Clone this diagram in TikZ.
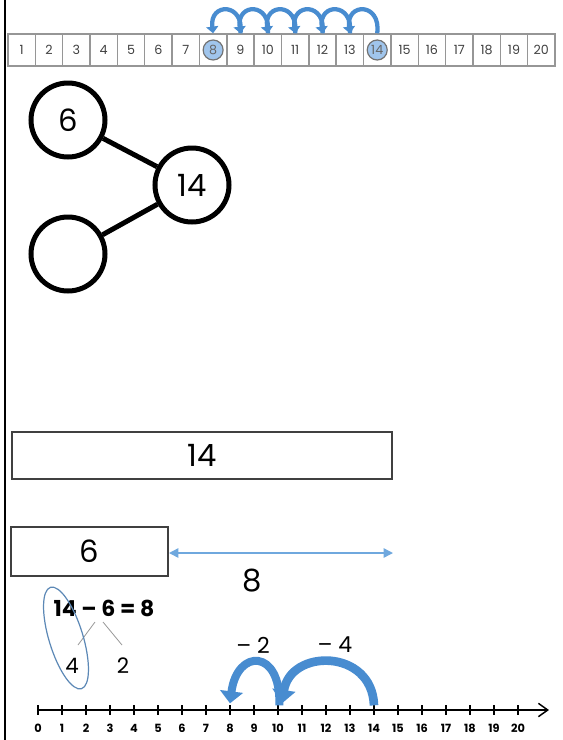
\documentclass[tikz,border=0pt]{standalone}
\usepackage{fontspec}
\setmainfont{Poppins}
\usetikzlibrary{arrows.meta}

\definecolor{hopblue}{RGB}{72,140,208}
\definecolor{pale}{RGB}{160,197,236}
\definecolor{linkblue}{RGB}{111,168,222}
\definecolor{ringblue}{RGB}{92,136,182}
\definecolor{boxgray}{RGB}{150,150,150}

\tikzset{
  cell/.style={draw=boxgray, line width=1.1pt, minimum width=20.51pt, minimum height=24pt,
    inner sep=0pt, font=\fontsize{9.5}{10}\selectfont, text=black!75},
  hlcell/.style={circle, draw=black!55, fill=pale, line width=0.9pt, minimum size=15pt,
    inner sep=0pt, font=\fontsize{9.5}{10}\selectfont, text=black!60},
  hop/.style={draw=hopblue, line width=3.2pt, -{Triangle[length=5pt,width=9pt]}},
  bond/.style={circle, draw, line width=3.75pt, minimum size=55.5pt, inner sep=0pt,
    font=\fontsize{23}{26}\selectfont},
  bondlink/.style={line width=3.75pt},
  bar/.style={draw=black!75, line width=1.5pt, inner sep=0pt, font=\fontsize{23}{26}\selectfont},
  gap/.style={draw=linkblue, line width=1.1pt,
    {Triangle[length=7pt,width=7pt]}-{Triangle[length=7pt,width=7pt]}},
  big/.style={font=\fontsize{23}{26}\selectfont},
  sum/.style={font=\bfseries\fontsize{16.5}{19}\selectfont},
  part/.style={font=\fontsize{16}{18}\selectfont},
  split/.style={draw=black!40, line width=0.6pt},
  ring/.style={draw=ringblue, line width=0.9pt},
  step label/.style={font=\fontsize{16.5}{18}\selectfont},
  tick/.style={line width=1pt},
  axis/.style={line width=1.1pt, -{Straight Barb[length=7pt,width=10pt]}},
  numlab/.style={font=\bfseries\fontsize{8.5}{9}\selectfont, inner sep=1pt},
  bighop/.style={draw=hopblue, line width=6.5pt, -{Triangle[length=10pt,width=17pt]}},
  smallhop/.style={draw=hopblue, line width=6pt, -{Triangle[length=9pt,width=17pt]}},
}

\begin{document}
\begin{tikzpicture}[x=0.75pt,y=0.75pt]
\useasboundingbox (0,0) rectangle (563,-740);
\fill[white] (0,0) rectangle (563,-740);
% Left margin line
\draw[line width=1.5pt] (5,0) -- (5,-740);
% Drawing number strip
\foreach \i in {1,...,20}
  \node[cell] (b\i) at ({8+27.35*(\i-0.5)},-50) {\i};
\node[hlcell] (c8) at (b8) {8};
\node[hlcell] (c14) at (b14) {14};
% Hops back from 14 to 8
\foreach \i in {14,13,...,9}{
  \pgfmathtruncatemacro{\j}{\i-1}
  \draw[hop] (b\i.north) .. controls +(4,31) and +(-4,31) .. (b\j.north);
}
% Drawing number bond
\node[bond] (six) at (68,-120) {6};
\node[bond] (fourteen) at (192,-185) {14};
\node[bond] (blank) at (68,-254) {};
\draw[bondlink] (six) -- (fourteen);
\draw[bondlink] (blank) -- (fourteen);
% Drawing bar model
\node[bar, minimum width=285pt, minimum height=35.25pt] (whole) at (202,-455.5) {14};
\node[bar, minimum width=117.75pt, minimum height=36.75pt] (known) at (89.5,-551.5) {6};
\coordinate (gapend) at (393,-553);
\draw[gap] (known.east |- gapend) -- (gapend);
\node[big] (diff) at (252,-581) {8};
% Drawing equation and split
\node[sum] (eqn) at (104,-608) {14 – 6 = 8};
\node[part] (four) at (72,-666) {4};
\node[part] (two) at (123,-666) {2};
\coordinate (sp1) at (95,-622);
\coordinate (sp2) at (103,-622);
\draw[split] (sp1) -- (78,-645);
\draw[split] (sp2) -- (122,-645);
\draw[ring, rotate around={17:(66,-638)}] (66,-638) ellipse [x radius=12.75pt, y radius=39.75pt];
% Drawing number line
\foreach \i in {0,...,20}{
  \coordinate (t\i) at ({38+24*\i},-710);
  \draw[tick] ([yshift=3.75pt]t\i) -- ([yshift=-3.75pt]t\i);
  \node[numlab] (l\i) at ({38+24*\i},-728) {\i};
}
\coordinate (axisend) at (549,-710);
\draw[axis] (t0) -- (axisend);
% Hops back from 14 to 10 to 8
\draw[bighop] ([yshift=3.5pt]t14) .. controls +(-2,57) and +(8,55) .. ([xshift=3pt,yshift=5pt]t10);
\draw[smallhop] ([xshift=1pt,yshift=3.5pt]t10) .. controls +(2,57) and +(7,55) .. ([yshift=5pt]t8);
\node[step label] (minus2) at (253,-645) {– 2};
\node[step label] (minus4) at (335,-645) {– 4};
\end{tikzpicture}
\end{document}
